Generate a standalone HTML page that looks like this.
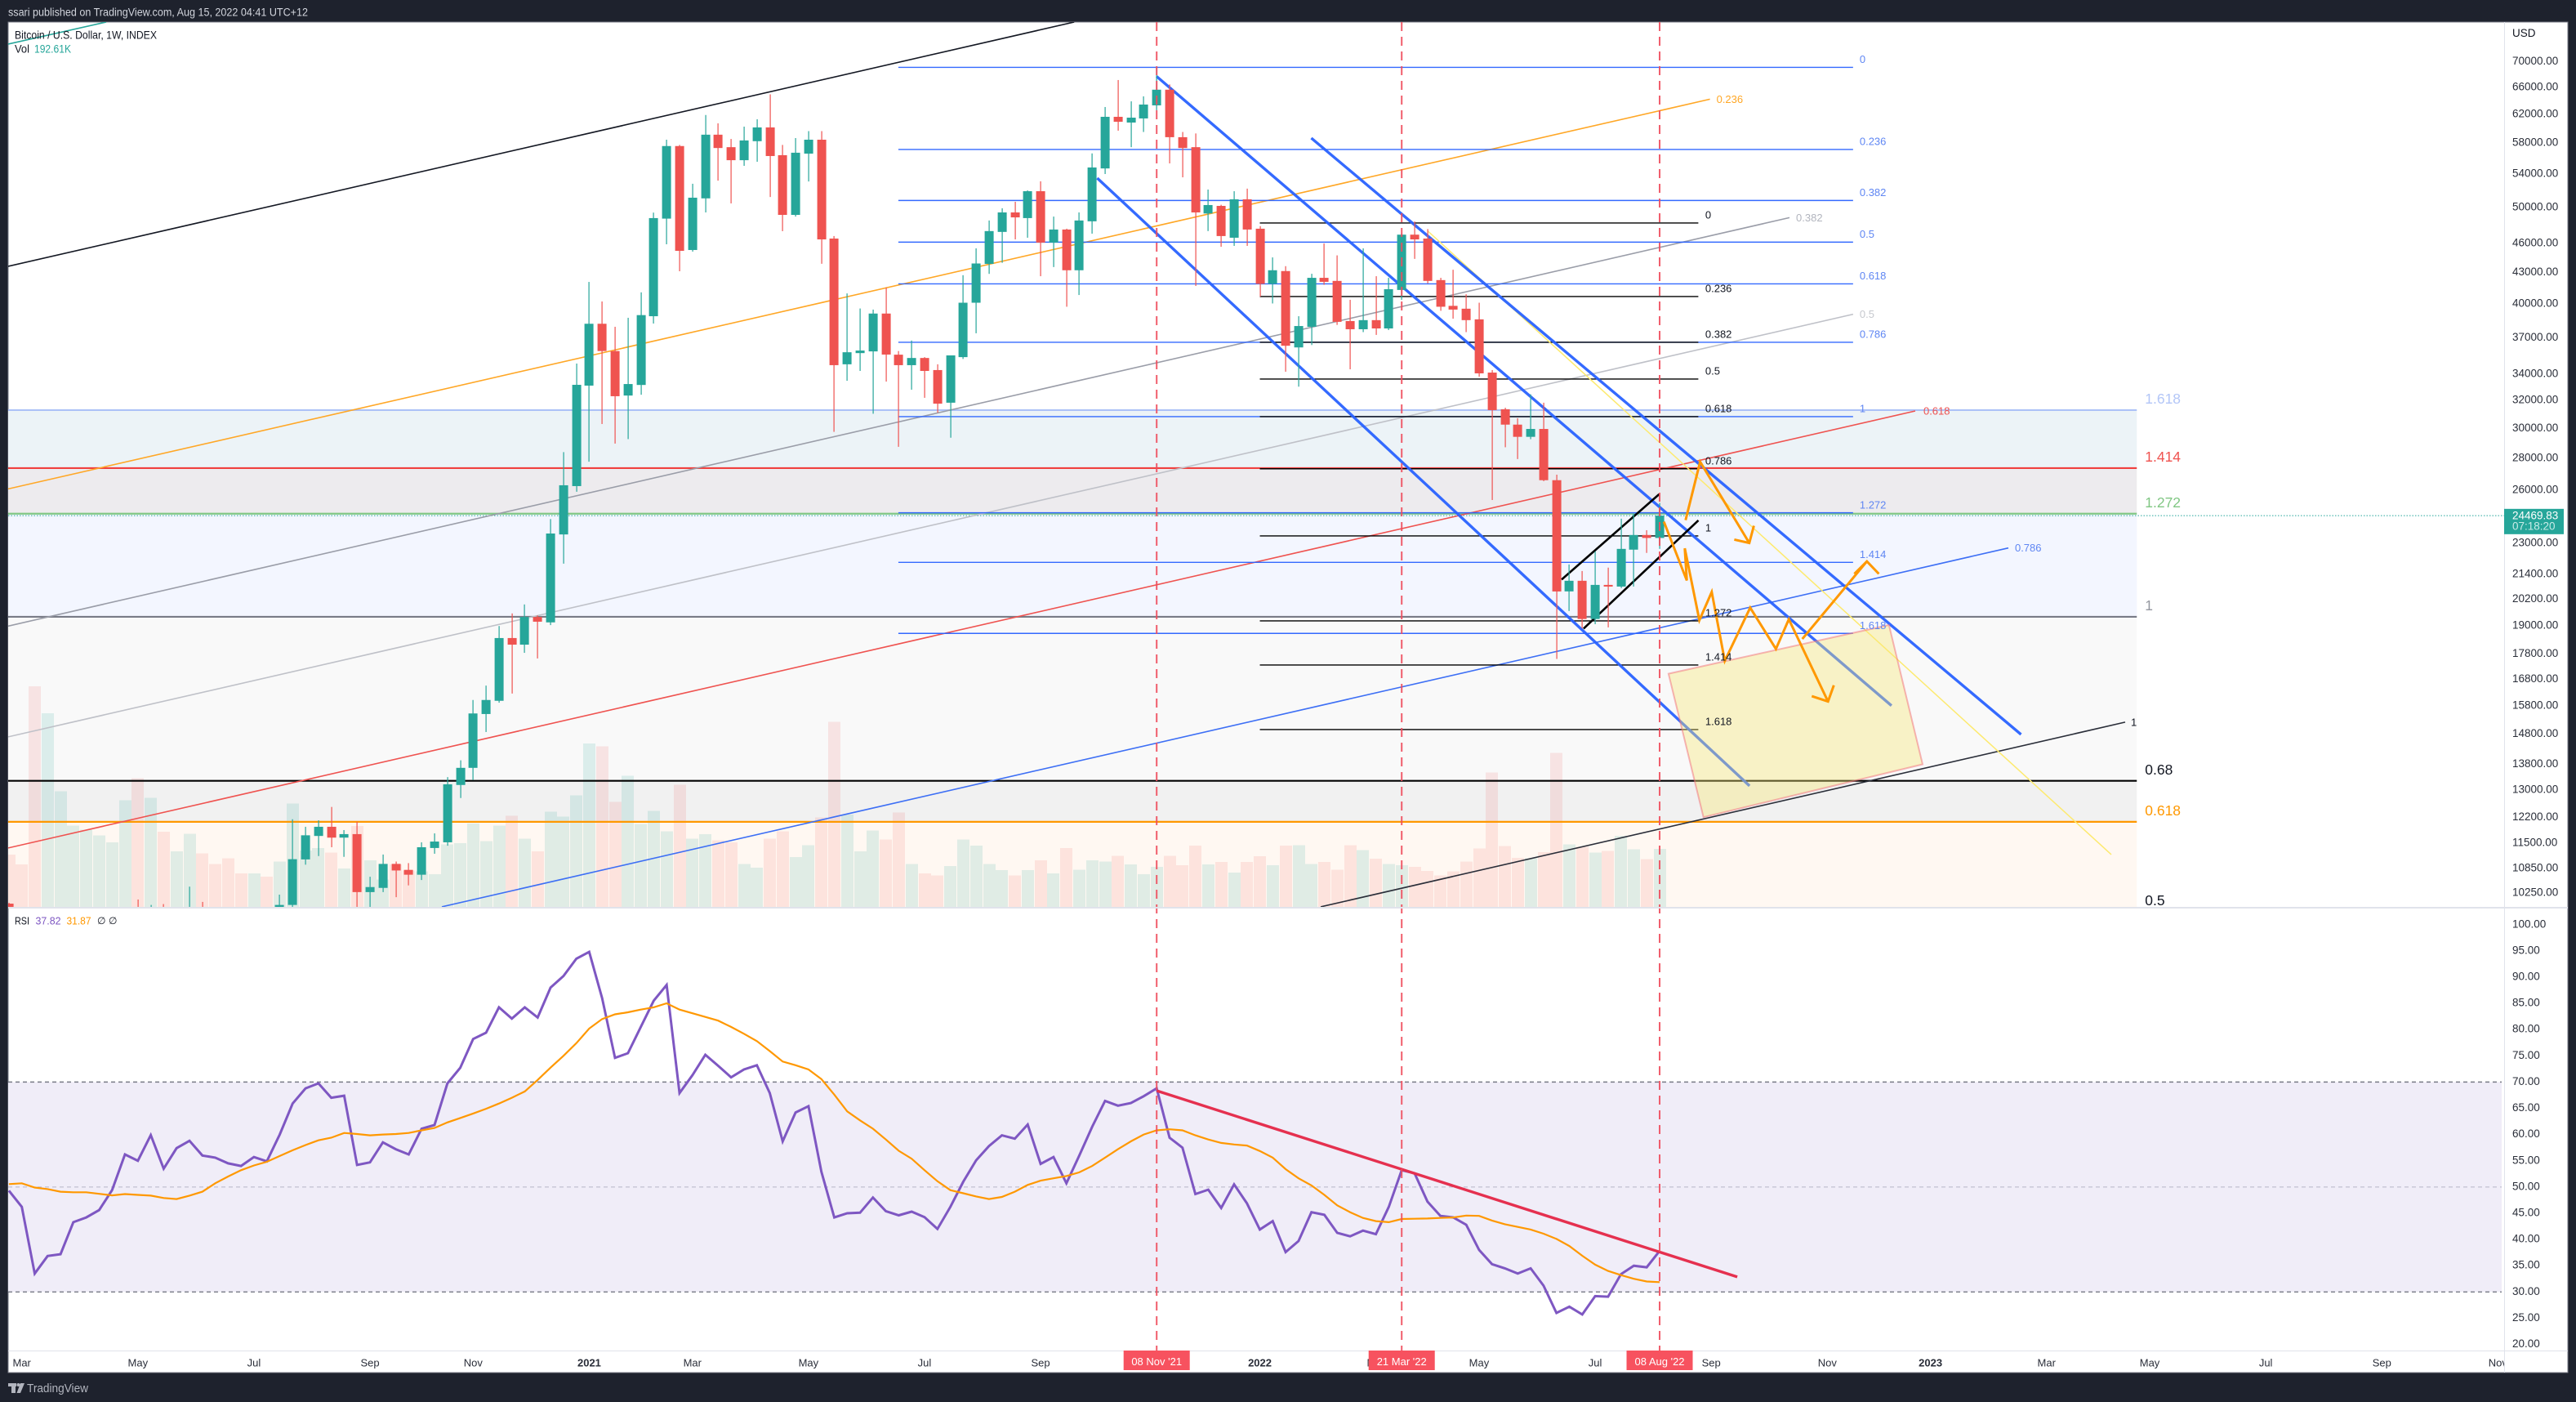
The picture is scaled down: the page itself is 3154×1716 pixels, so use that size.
<!DOCTYPE html>
<html lang="en">
<head>
<meta charset="utf-8">
<title>Bitcoin / U.S. Dollar weekly chart</title>
<style>
html,body{margin:0;padding:0;background:#1e222d;width:3154px;height:1716px;overflow:hidden}
svg{display:block;font-family:"Liberation Sans",sans-serif}
text{dominant-baseline:middle}
</style>
</head>
<body>
<svg id="chart" xmlns="http://www.w3.org/2000/svg" width="3154" height="1716" viewBox="0 0 3154 1716">
  <defs>
    <clipPath id="mainClip"><rect x="10" y="27" width="3056" height="1083"/></clipPath>
    <clipPath id="rsiClip"><rect x="10" y="1112" width="3056" height="541"/></clipPath>
    <clipPath id="timeClip"><rect x="10" y="1654" width="3056" height="26"/></clipPath>
  </defs>
  <rect x="0" y="0" width="3154" height="1716" fill="#1e222d"/>
  <rect x="10" y="27" width="3134" height="1653" fill="#ffffff" stroke="#787b86" stroke-width="1"/>
  <text x="10" y="16" fill="#d1d4dc" font-size="13.5" textLength="367" lengthAdjust="spacingAndGlyphs">ssari published on TradingView.com, Aug 15, 2022 04:41 UTC+12</text>

  <g id="mainPane" clip-path="url(#mainClip)"></g>
  <g id="mainLabels"></g>
  <g id="rsiPane" clip-path="url(#rsiClip)"></g>
  <g id="verticals"></g>

  <rect x="10" y="1110" width="3134" height="2" fill="#e0e3eb"/>
  <rect x="10" y="1653" width="3134" height="1" fill="#e0e3eb"/>
  <rect x="3066" y="27" width="1" height="1653" fill="#e0e3eb"/>

  <g id="priceAxis"></g>
  <g id="rsiAxis"></g>
  <g id="timeAxis" clip-path="url(#timeClip)"></g>
  <g id="timeMarkers"></g>
  <g id="lastPrice"></g>

  <text x="3076" y="41.6" fill="#131722" font-size="13.5">USD</text>
  <text x="18" y="44" fill="#131722" font-size="13.5" textLength="174" lengthAdjust="spacingAndGlyphs">Bitcoin / U.S. Dollar, 1W, INDEX</text>
  <text x="18" y="61" fill="#131722" font-size="13.5" textLength="18" lengthAdjust="spacingAndGlyphs">Vol</text>
  <text x="42" y="61" fill="#26a69a" font-size="13.5" textLength="45" lengthAdjust="spacingAndGlyphs">192.61K</text>
  <text x="18" y="1128" fill="#131722" font-size="13" textLength="18" lengthAdjust="spacingAndGlyphs">RSI</text>
  <text x="43.5" y="1128" fill="#7e57c2" font-size="13" textLength="31" lengthAdjust="spacingAndGlyphs">37.82</text>
  <text x="81.5" y="1128" fill="#ff9800" font-size="13" textLength="30" lengthAdjust="spacingAndGlyphs">31.87</text>
  <text x="119" y="1128" fill="#131722" font-size="12">∅</text>
  <text x="133" y="1128" fill="#131722" font-size="12">∅</text>

  <g>
    <rect x="10" y="1693" width="10" height="4" fill="#b2b5be"/>
    <rect x="14" y="1693" width="5" height="12" fill="#b2b5be"/>
    <circle cx="22.5" cy="1695" r="2" fill="#b2b5be"/>
    <polygon points="25,1693 30,1693 25,1705 20.5,1705" fill="#b2b5be"/>
    <text x="33" y="1700" fill="#b2b5be" font-size="15" textLength="75" lengthAdjust="spacingAndGlyphs">TradingView</text>
  </g>
</svg>

<script>
/* ---------- chart data ---------- */
const opens = [
9980,8600,8040,5150,6200,6250,6800,6880,7130,7700,
8900,8720,9680,8900,9430,9650,9330,9300,9000,8960,
9300,9180,9950,11054,11670,11920,11625,11720,10250,10350,
10940,10790,10670,11350,11500,13130,13660,15470,15950,18440,
18160,19360,19120,23430,26200,33050,38130,35800,32300,33100,
38800,48620,57500,45220,50950,59030,57350,55650,58150,60030,
56300,49040,56500,58350,46430,34720,35630,35770,39040,35500,
34650,35230,34260,31770,35300,40030,43790,47150,49320,48680,
51800,46000,47410,43150,48320,54600,61520,60710,61290,63170,
65500,58690,57350,49200,50070,46520,50840,47500,41810,43070,
36100,37865,42400,42100,38370,37650,38450,37720,41230,46850,
46430,42180,39740,39480,38520,34060,31290,30200,29360,29900,
26560,20540,21050,19270,20850,20770,22620,23400,23240];
const highs = [
10000,9190,8180,6950,6990,7200,7450,7300,7800,9450,
10076,9950,9970,9780,10380,10020,9600,9750,9300,9450,
9400,10190,12130,11920,12100,12480,11830,12060,10620,11180,
11000,10960,11500,11740,13370,13900,15980,16520,18960,19520,
19930,19430,24277,28340,34780,42000,40147,37865,38660,41000,
49300,58350,57650,52700,61780,60600,58450,60140,61170,64800,
57650,58570,59520,59520,46700,40900,39500,39400,41460,35800,
36680,35300,34720,35440,42660,45390,48410,49800,50550,51900,
53000,48850,47500,49320,56530,62930,66980,63760,64500,69000,
66300,59400,59200,52000,50200,51800,52110,47780,44450,43560,
38800,42800,45900,44660,40300,45390,42560,42400,47000,48300,
47460,42400,43200,40820,40030,34260,31400,30650,32390,31770,
26900,21860,21530,22530,21700,24300,24570,23660,25200];
const lows = [
8450,8000,3850,4500,5700,5900,6500,6500,6800,7600,
8500,8100,8700,8630,9280,9000,8900,8850,8900,9000,
9000,9030,9800,10920,11140,11370,11120,9830,9880,10250,
10130,10410,10540,11200,11410,12740,13280,14840,15880,16220,
17820,17590,19000,21900,25860,27720,30244,28905,29207,32360,
38150,45820,43050,45050,49320,53080,50360,54930,55450,51110,
47230,48850,52980,43800,29700,33420,34190,30970,33360,28690,
32740,32130,31050,29300,35150,37300,42790,43900,46340,46520,
42560,43470,39660,40750,46960,53900,59580,57350,59400,62460,
55240,53490,41610,47240,45560,45650,45650,40600,39960,34130,
32970,36300,41720,38030,34320,37400,37160,37580,40300,44300,
41860,39290,38580,37400,33740,25370,28660,27890,29200,26500,
17570,19630,18860,19040,18900,20700,20770,22450,22660];
const closes = [
8600,8040,5150,6200,6250,6800,6880,7130,7700,8900,
8720,9680,8900,9430,9650,9330,9300,9000,8960,9300,
9180,9950,11060,11688,11920,11625,11720,10250,10370,10940,
10775,10670,11370,11520,13150,13660,15490,15980,18440,18160,
19360,19150,23480,26250,33110,38130,35800,32250,33170,38900,
48680,57500,45130,51030,59030,57240,55650,58250,60030,56190,
49040,56620,58350,46340,34650,35700,35840,39040,35510,34650,
35230,34190,31700,35440,40030,43830,47240,49320,48760,51800,
46000,47410,43150,48410,54720,61520,60820,61400,63290,65500,
58690,57240,49320,50170,46700,50840,47410,41810,43150,36240,
37930,42400,42010,38300,37650,38450,37720,41300,46850,46340,
42100,39660,39400,38450,34000,31230,30200,29360,29900,26560,
20536,21050,19270,20850,20770,22660,23400,23240,24469.83];
const volumes = [
173,141,733,643,384,270,256,238,214,354,
427,362,249,184,243,178,143,162,111,111,
100,151,343,187,195,181,127,268,154,91,
141,121,118,108,208,211,277,219,270,303,
227,184,316,300,370,543,533,349,435,275,
319,251,406,227,241,221,214,143,130,227,
251,165,205,297,614,306,184,254,224,314,
143,111,105,135,224,203,143,122,105,122,
154,111,195,124,154,151,170,141,108,133,
170,138,203,141,149,114,149,168,138,203,
205,143,149,124,205,189,160,143,138,133,
119,105,118,150,194,446,202,163,162,182,
511,208,200,181,186,236,191,159,192.61];
const rsiValues = [
49.3,46.2,33.5,36.85,37.2,43.3,44.2,45.6,49.4,56.2,
55,59.9,53.5,57.4,58.8,56,55.6,54.5,54,55.7,
54.9,60,65.9,68.8,69.75,67,67.4,54.2,54.7,58.5,
57.2,56.2,61.1,61.8,69.75,72.7,78.2,79.4,84.25,82.1,
84.25,82.3,88,90.2,93.5,94.8,86,74.6,75.5,80.5,
85.5,88.5,67.9,71.3,75.2,73.1,70.9,72.4,73.2,67.9,
58.7,64.2,65.4,52.9,44.2,45,45.1,48,45.4,44.6,
45.3,44.25,42,46.2,51,55.1,57.8,59.85,59.2,61.9,
54.4,55.7,50.7,56,61.5,66.4,65.5,66,67.3,68.8,
59.4,57.5,48.65,49.5,46,50.5,46.9,41.9,43.5,37.6,
39.7,45.2,44.7,41.25,40.6,41.7,41,46.2,53.2,52.6,
47.2,44.5,44.2,42.8,38,35.3,34.5,33.5,34.5,31.2,
26,27.2,25.7,29.2,29.1,33.4,35,34.7,37.82];
const rsiMaValues = [
50.55,50.7,49.9,49.6,49.1,49,49,48.7,48.4,48.65,
48.5,48.35,47.9,47.7,48.35,49.1,50.7,52,53.2,54.1,
54.8,55.9,57,58,58.9,59.4,60.3,60.1,59.85,60,
60.1,60.3,60.8,61.25,62.3,63.15,64,64.9,65.9,67,
68.2,70.4,72.75,75,77.4,80.2,82,82.9,83.3,83.8,
84.25,85,83.8,83.1,82.4,81.7,80.5,79.2,77.8,75.9,
73.9,73.2,72.4,70.55,67.6,64.4,62.7,61.1,59.05,56.9,
55.4,53.2,51.1,49.4,48.8,48.2,47.7,48.1,49.1,50.4,
51.2,51.65,52.1,52.8,54,55.6,57.2,58.7,60,60.8,
61,60.8,59.85,59.05,58.4,58.1,57.9,56.85,55.6,53.4,
51.65,50.3,48.5,46.5,45.2,44.1,43.5,43.3,43.9,43.95,
44,44.1,44.2,44.55,44.5,43.6,42.9,42.4,41.9,41.1,
40.1,38.75,36.9,35.2,34,33.2,32.5,32,31.87];

const priceTicks = [70000,66000,62000,58000,54000,50000,46000,43000,40000,37000,34000,32000,30000,28000,26000,23000,21400,20200,19000,17800,16800,15800,14800,13800,13000,12200,11500,10850,10250];
const rsiTicks = [100,95,90,85,80,75,70,65,60,55,50,45,40,35,30,25,20];
const timeTickBars = [1,10,19,28,36,45,53,62,71,80,88,97,106,114,123,132,141,149,158,166,175,184,193];
const timeTickLabels = ['Mar','May','Jul','Sep','Nov','2021','Mar','May','Jul','Sep','Nov','2022','Mar','May','Jul','Sep','Nov','2023','Mar','May','Jul','Sep','Nov'];
const markerBars = [89,108,128];
const markerLabels = ["08 Nov '21","21 Mar '22","08 Aug '22"];

/* horizontal fib zones, prices */
const zoneLevels = [31231,27312,24581,19368,13256,12058,9795];
const zoneNames = ['1.618','1.414','1.272','1','0.68','0.618','0.5'];
/* long-range fib (blue), prices */
const blueFibLevels = [68966,57043,50702,46047,41811,36531,30762,24632,21964,18639];
const blueFibNames = ['0','0.236','0.382','0.5','0.618','0.786','1','1.272','1.414','1.618'];
const blueFibBars = [68.97,143];
/* short-range fib (black), prices */
const blackFibLevels = [48127,40604,36531,33554,30762,27271,23350,19186,17326,14925];
const blackFibNames = ['0','0.236','0.382','0.5','0.618','0.786','1','1.272','1.414','1.618'];
const blackFibBars = [97,131];
/* trend-based levels as [bar, price, bar, price] */
const trendTop = [-0.06,43542,82.6,76586];
const trendTeal = [-0.06,72776,7.54,76586];
const trend0236 = [-0.06,26029,131.9,64080];
const trend0382 = [-0.06,18956,138.07,48730];
const trend05 = [-0.06,14673,143,38982];
const trend0618 = [-0.06,11350,147.82,31172];
const trend0786 = [33.57,9907,155.04,22706];
const trend1 = [101.72,9907,164.1,15181];
const channelUpper = [100.99,58571,156.02,14757];
const channelMiddle = [88.99,67549,145.98,15773];
const channelLower = [84.39,53392,134.97,13101];
const flagUpper = [120.4,21109,127.97,25711];
const flagLower = [122.1,18845,131.01,24203];
const yellowLine = [110.04,47229,163.02,11180];
const targetBox = [128.69,16982,145.78,19005,148.39,13772,131.4,12188];
const forecastA = [130.01,24217,131.14,27717,134.95,22969];
const forecastAHead = [133.79,23156,134.95,22969,135.31,23903];
const forecastB = [128.33,24130,130.11,21062,129.95,22689,131.08,19215,132.04,20509,133.05,17493,135.02,19779,137.02,17979,138.02,19258,141.06,15923];
const forecastBHead = [139.8,16120,141.06,15923,141.51,16533];
const forecastC = [139.06,18398,144.07,22014];
const forecastCHead = [143.1,21387,144.07,22014,145,21387];
const rsiTrend = [89,68.35,134.02,32.86];
const lastPriceValue = 24469.83;
const lastPriceCountdown = '07:18:20';

/* ---------- axis functions ---------- */
const xBar = i => 10.9 + 15.79 * i;
const yPrice = p => 74.6 + 529.5 * Math.log(70000 / p);
const yRsi = v => 1581.3 - (v - 30) * 6.423;
const hVol = v => v / 2.713;

const NS = 'http://www.w3.org/2000/svg';
function mk(parent, tag, attrs, txt) {
  const el = document.createElementNS(NS, tag);
  for (const k in attrs) el.setAttribute(k, attrs[k]);
  if (txt !== undefined) el.textContent = txt;
  parent.appendChild(el);
  return el;
}
function groupIn(parent, name) {
  const g = document.createElementNS(NS, 'g');
  
  
  parent.appendChild(g);
  return g;
}
function pricePts(a) {
  const out = [];
  for (let i = 0; i < a.length; i += 2) out.push(xBar(a[i]).toFixed(1) + ',' + yPrice(a[i + 1]).toFixed(1));
  return out.join(' ');
}
function drawTrend(parent, name, a, color, width, opacity) {
  const el = mk(parent, 'polyline', {points: pricePts(a), fill: 'none', stroke: color, 'stroke-width': width, opacity: opacity === undefined ? 1 : opacity, 'stroke-linejoin': 'miter'});
  
  
  return el;
}
function drawLabel(parent, name, x, y, str, color, size) {
  const el = mk(parent, 'text', {x: x, y: y + 1, fill: color, 'font-size': size}, str);
  
  
  return el;
}

const main = document.getElementById('mainPane');
const labels = document.getElementById('mainLabels');

/* zones */
const zoneFills = ['#ecf3f7','#edebee','#f3f6ff','#f9f9f9','#f1f1f1','#fff8f2'];
const zoneLines = ['#adc2f7','#f0413f','#81c784','#787b86','#000000','#ff9800'];
const zoneLabelColors = ['#b3c6f7','#ef5350','#81c784','#9598a1','#131722','#ff9800','#131722'];
const zoneEnd = xBar(165);
const zonesG = groupIn(main, 'fib-zones');
for (let i = 0; i < zoneFills.length; i++) {
  const r = mk(zonesG, 'rect', {x: 10, y: yPrice(zoneLevels[i]), width: zoneEnd - 10, height: yPrice(zoneLevels[i + 1]) - yPrice(zoneLevels[i]), fill: zoneFills[i]});
  
  
}

/* volume */
const volG = groupIn(main, 'volume-bars');
volG.setAttribute('shape-rendering', 'crispEdges');
volumes.forEach((v, i) => {
  const up = closes[i] >= opens[i];
  const bar = mk(volG, 'rect', {x: Math.round(xBar(i) - 7.4), y: 1110 - hVol(v), width: 15, height: hVol(v), fill: up ? 'rgba(38,166,154,0.145)' : 'rgba(239,83,80,0.125)'});
  
  
});

/* zone lines on top of volume */
const zoneLineG = groupIn(main, 'fib-zone-lines');
for (let i = 0; i < zoneLines.length; i++) {
  const l = mk(zoneLineG, 'line', {x1: 10, x2: zoneEnd, y1: yPrice(zoneLevels[i]), y2: yPrice(zoneLevels[i]), stroke: zoneLines[i], 'stroke-width': 2.2});
  
  
}
zoneNames.forEach((n, i) => {
  drawLabel(labels, 'fib-zone-label', zoneEnd + 10, yPrice(zoneLevels[i]) - 13.5, n, zoneLabelColors[i], 17.5);
});

/* last price dotted line */
const lastLine = mk(main, 'line', {x1: 10, x2: 3066, y1: yPrice(lastPriceValue), y2: yPrice(lastPriceValue), stroke: '#26a69a', 'stroke-width': 1, 'stroke-dasharray': '1.5 2'});



/* angled fib lines */
const angledG = groupIn(main, 'fib-channel-lines');
drawTrend(angledG, 'channel-top-line', trendTop, '#131722', 1.6);
drawTrend(angledG, 'channel-teal-line', trendTeal, '#26a69a', 1.6);
drawTrend(angledG, 'channel-0236-line', trend0236, '#ffa726', 1.6);
drawTrend(angledG, 'channel-0382-line', trend0382, '#9a9da8', 1.6);
drawTrend(angledG, 'channel-05-line', trend05, '#bfc1c8', 1.6);
drawTrend(angledG, 'channel-0618-line', trend0618, '#ef5350', 1.6);
drawTrend(angledG, 'channel-0786-line', trend0786, '#3d6ff5', 1.6);
drawTrend(angledG, 'channel-1-line', trend1, '#2a2e39', 1.6);
drawLabel(labels, 'channel-0236-label', xBar(trend0236[2]) + 8, yPrice(trend0236[3]), '0.236', '#ffa726', 13);
drawLabel(labels, 'channel-0382-label', xBar(trend0382[2]) + 8, yPrice(trend0382[3]), '0.382', '#b2b5be', 13);
drawLabel(labels, 'channel-05-label', xBar(trend05[2]) + 8, yPrice(trend05[3]), '0.5', '#c6c8ce', 13);
drawLabel(labels, 'channel-0618-label', xBar(trend0618[2]) + 10, yPrice(trend0618[3]), '0.618', '#ef5350', 13);
drawLabel(labels, 'channel-0786-label', xBar(trend0786[2]) + 8, yPrice(trend0786[3]), '0.786', '#5f86f3', 13);
drawLabel(labels, 'channel-1-label', xBar(trend1[2]) + 7, yPrice(trend1[3]), '1', '#131722', 13);

/* blue fib */
const blueG = groupIn(main, 'blue-fib-levels');
blueFibLevels.forEach((p, i) => {
  const l = mk(blueG, 'line', {x1: xBar(blueFibBars[0]), x2: xBar(blueFibBars[1]), y1: yPrice(p), y2: yPrice(p), stroke: '#2962ff', 'stroke-width': 1.4, opacity: .95});
  
  
  drawLabel(labels, 'blue-fib-label', xBar(blueFibBars[1]) + 8, yPrice(p) - 9.8, blueFibNames[i], '#5f86f3', 13);
});

/* black fib */
const blackG = groupIn(main, 'black-fib-levels');
blackFibLevels.forEach((p, i) => {
  const l = mk(blackG, 'line', {x1: xBar(blackFibBars[0]), x2: xBar(blackFibBars[1]), y1: yPrice(p), y2: yPrice(p), stroke: '#000000', 'stroke-width': 1.4});
  
  
  drawLabel(labels, 'black-fib-label', xBar(blackFibBars[1]) + 8.5, yPrice(p) - 9.8, blackFibNames[i], '#131722', 13);
});

/* thin yellow trend, blue channels */
drawTrend(main, 'yellow-trend-line', yellowLine, '#fdea6f', 1.5);
const chanG = groupIn(main, 'blue-descending-channel');
drawTrend(chanG, 'channel-upper-line', channelUpper, '#2962ff', 3.4, .95);
drawTrend(chanG, 'channel-middle-line', channelMiddle, '#2962ff', 3.4, .95);
drawTrend(chanG, 'channel-lower-line', channelLower, '#2962ff', 3.4, .95);

/* target box */
const box = mk(main, 'polygon', {points: pricePts(targetBox), fill: 'rgba(248,232,115,0.38)', stroke: 'rgba(242,110,120,0.5)', 'stroke-width': 2});



/* flag channel */
const flagG = groupIn(main, 'bear-flag-channel');
drawTrend(flagG, 'flag-upper-line', flagUpper, '#000000', 2.6);
drawTrend(flagG, 'flag-lower-line', flagLower, '#000000', 2.6);

/* vertical dashed date lines */
const vertG = document.getElementById('verticals');
markerBars.forEach(b => {
  const l = mk(vertG, 'line', {x1: xBar(b), x2: xBar(b), y1: 27, y2: 1653, stroke: '#ef4c5c', 'stroke-width': 2, 'stroke-dasharray': '11 7', opacity: .9});
  
  
});

/* RSI pane */
const rsiPane = document.getElementById('rsiPane');
const band = mk(rsiPane, 'rect', {x: 10, y: yRsi(70), width: 3053, height: yRsi(30) - yRsi(70), fill: '#f0edf8'});


[70, 50, 30].forEach(v => {
  const l = mk(rsiPane, 'line', {x1: 10, x2: 3063, y1: yRsi(v), y2: yRsi(v), stroke: v === 50 ? '#b7b5c6' : '#787b86', 'stroke-width': v === 50 ? 1 : 1.4, 'stroke-dasharray': '5 4'});
  
  
});
const rsiLine = mk(rsiPane, 'polyline', {points: rsiValues.map((v, i) => xBar(i).toFixed(1) + ',' + yRsi(v).toFixed(1)).join(' '), fill: 'none', stroke: '#7e57c2', 'stroke-width': 3});


const rsiMa = mk(rsiPane, 'polyline', {points: rsiMaValues.map((v, i) => xBar(i).toFixed(1) + ',' + yRsi(v).toFixed(1)).join(' '), fill: 'none', stroke: '#ff9800', 'stroke-width': 2.2});


const rsiTl = mk(rsiPane, 'line', {x1: xBar(rsiTrend[0]), y1: yRsi(rsiTrend[1]), x2: xBar(rsiTrend[2]), y2: yRsi(rsiTrend[3]), stroke: '#e5304f', 'stroke-width': 3.4});



/* candles on top of lines */
const candleG = groupIn(main, 'candles');
const candleWrap = candleG;
opens.forEach((o, i) => {
  const c = closes[i], up = c >= o, col = up ? '#26a69a' : '#ef5350';
  const cx = Math.round(xBar(i));
  const w = mk(candleWrap, 'rect', {x: cx - 0.5, y: yPrice(highs[i]), width: 1.2, height: yPrice(lows[i]) - yPrice(highs[i]), fill: col});
  
  
  const top = yPrice(Math.max(o, c)), bot = yPrice(Math.min(o, c));
  const b = mk(candleWrap, 'rect', {x: cx - 5.4, y: top, width: 11, height: Math.max(bot - top, 1.5), fill: col});
  
  
});

/* orange forecast path above candles */
const fcG = groupIn(main, 'forecast-arrows');
drawTrend(fcG, 'forecast-path-a', forecastA, '#ff9800', 3);
drawTrend(fcG, 'forecast-head-a', forecastAHead, '#ff9800', 3);
drawTrend(fcG, 'forecast-path-b', forecastB, '#ff9800', 3);
drawTrend(fcG, 'forecast-head-b', forecastBHead, '#ff9800', 3);
drawTrend(fcG, 'forecast-path-c', forecastC, '#ff9800', 3);
drawTrend(fcG, 'forecast-head-c', forecastCHead, '#ff9800', 3);

/* axes */
const priceAxis = document.getElementById('priceAxis');
priceTicks.forEach(p => {
  drawLabel(priceAxis, 'price-tick-label', 3076, yPrice(p), p.toFixed(2), '#2a2e39', 13.5);
});
const rsiAxis = document.getElementById('rsiAxis');
rsiTicks.forEach(v => {
  drawLabel(rsiAxis, 'rsi-tick-label', 3076, yRsi(v) - 1, v.toFixed(2), '#2a2e39', 13.5);
});
const timeAxis = document.getElementById('timeAxis');
timeTickBars.forEach((b, i) => {
  const isYear = /^\d/.test(timeTickLabels[i]);
  const t = mk(timeAxis, 'text', {x: xBar(b), y: 1669, 'text-anchor': 'middle', fill: '#2a2e39', 'font-size': 13, 'font-weight': isYear ? 700 : 400}, timeTickLabels[i]);
  
  
});
const tm = document.getElementById('timeMarkers');
markerBars.forEach((b, i) => {
  const r = mk(tm, 'rect', {x: xBar(b) - 40.5, y: 1653, width: 81, height: 24, fill: '#f7525f'});
  
  
  const t = mk(tm, 'text', {x: xBar(b), y: 1667.5, 'text-anchor': 'middle', fill: '#ffffff', 'font-size': 13}, markerLabels[i]);
  
  
});

/* last price tag */
const lp = document.getElementById('lastPrice');
const lpY = yPrice(lastPriceValue);
const lpBox = mk(lp, 'rect', {x: 3066, y: lpY - 8.3, width: 73, height: 31, fill: '#26a69a'});


drawLabel(lp, 'last-price-value', 3076, lpY - 0.2, lastPriceValue.toFixed(2), '#ffffff', 13.5);
drawLabel(lp, 'last-price-countdown', 3076, lpY + 13, lastPriceCountdown, '#c8ebe7', 13.5);

/* labels sit just above the box in paint order */
const pane = document.getElementById('mainPane');
pane.parentNode.insertBefore(labels, pane.nextSibling);
</script>
</body>
</html>
